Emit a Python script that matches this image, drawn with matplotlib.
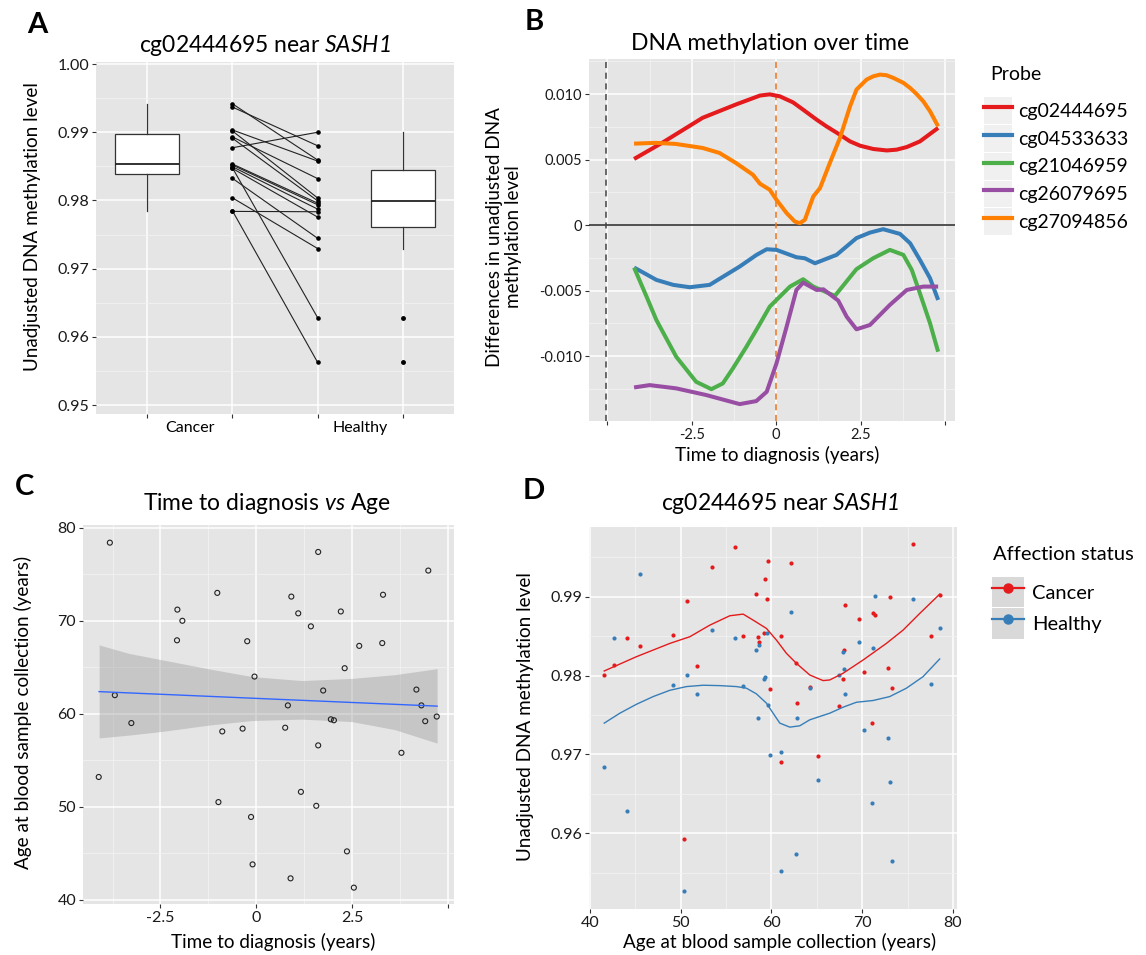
import numpy as np
import matplotlib
matplotlib.use('Agg')
import matplotlib.pyplot as plt
from matplotlib.ticker import MultipleLocator, FixedLocator, FormatStrFormatter
from matplotlib.patches import Rectangle
from matplotlib.lines import Line2D

W, H = 1146, 955
plt.rcParams['font.family'] = ['Lato', 'DejaVu Sans']
plt.rcParams['mathtext.fontset'] = 'custom'
plt.rcParams['mathtext.rm'] = 'Lato:italic'
plt.rcParams['mathtext.it'] = 'Lato:italic'

###############################################################
#                           DATA                              #
###############################################################

# panel A - boxplots and paired samples
cancer_box = [0.97845, 0.98394, 0.98535, 0.98980, 0.99418]   # whislo, q1, med, q3, whishi
healthy_box = [0.97296, 0.97606, 0.97995, 0.98442, 0.99000]
healthy_out = [0.96282, 0.95627]
pair_cancer = [0.99418, 0.99370, 0.99034, 0.99020, 0.98932, 0.98913, 0.98773, 0.98535,
               0.98520, 0.98495, 0.98480, 0.98470, 0.98325, 0.98039, 0.97850, 0.97840]
pair_healthy = [0.98593, 0.98802, 0.98578, 0.98037, 0.98321, 0.97995, 0.99000, 0.97961,
                0.97937, 0.97874, 0.96282, 0.97757, 0.97446, 0.97296, 0.95627, 0.97835]

# panel B - smoothed differences per probe
probes = ['cg02444695', 'cg04533633', 'cg21046959', 'cg26079695', 'cg27094856']
red_x = [-4.21, -3.38, -2.18, -1.19, -0.48, -0.19, 0.11, 0.50, 0.80, 1.20, 1.49, 1.89, 2.19, 2.49,
         2.88, 3.28, 3.57, 3.87, 4.26, 4.80]
red_y = [0.00505, 0.00628, 0.00819, 0.00921, 0.00989, 0.00998, 0.00983, 0.00937, 0.00881, 0.00805,
         0.00754, 0.00690, 0.00639, 0.00606, 0.00581, 0.00570, 0.00576, 0.00596, 0.00639, 0.00742]
blue_x = [-4.21, -3.94, -3.55, -3.05, -2.56, -1.97, -1.57, -1.08, -0.58, -0.28, 0.01, 0.60, 0.85,
          1.15, 1.79, 2.38, 2.78, 3.17, 3.67, 3.97, 4.26, 4.56, 4.80]
blue_y = [-0.00324, -0.00362, -0.00418, -0.00456, -0.00474, -0.00456, -0.00393, -0.00316, -0.00227,
          -0.00184, -0.00189, -0.00245, -0.00253, -0.00291, -0.00227, -0.00099, -0.00057, -0.00031,
          -0.00067, -0.00138, -0.00265, -0.00405, -0.00571]
green_x = [-4.21, -3.84, -3.55, -2.96, -2.37, -1.92, -1.58, -1.28, -0.88, -0.53, -0.19, 0.41, 0.80,
           1.10, 1.74, 2.38, 2.88, 3.37, 3.77, 4.02, 4.26, 4.56, 4.80]
green_y = [-0.00324, -0.00546, -0.00724, -0.01005, -0.01196, -0.01252, -0.01208, -0.01093, -0.00928,
           -0.00775, -0.00622, -0.00469, -0.00413, -0.00469, -0.00540, -0.00336, -0.00252, -0.00189,
           -0.00227, -0.00342, -0.00520, -0.00749, -0.00966]
purple_x = [-4.21, -3.75, -2.96, -2.07, -1.08, -0.59, -0.28, 0.01, 0.31, 0.60, 0.80, 1.20, 1.40,
            1.84, 2.09, 2.38, 2.78, 3.37, 3.87, 4.36, 4.80]
purple_y = [-0.01239, -0.01221, -0.01246, -0.01297, -0.01366, -0.01343, -0.01272, -0.01055,
            -0.00775, -0.00495, -0.00439, -0.00495, -0.00490, -0.00576, -0.00699, -0.00795,
            -0.00762, -0.00609, -0.00495, -0.00469, -0.00469]
orange_x = [-4.21, -3.57, -2.98, -2.18, -1.68, -1.19, -0.69, -0.48, -0.19, 0.01, 0.31, 0.55, 0.70,
            0.85, 1.10, 1.30, 1.59, 1.89, 2.19, 2.38, 2.68, 2.88, 3.08, 3.27, 3.47, 3.77, 3.97,
            4.16, 4.36, 4.56, 4.80]
orange_y = [0.00622, 0.00628, 0.00620, 0.00589, 0.00551, 0.00474, 0.00385, 0.00316, 0.00270,
            0.00193, 0.00092, 0.00028, 0.00015, 0.00040, 0.00219, 0.00283, 0.00474, 0.00665,
            0.00907, 0.01034, 0.01111, 0.01136, 0.01149, 0.01144, 0.01124, 0.01086, 0.01047,
            0.01001, 0.00945, 0.00869, 0.00754]
probe_x = [red_x, blue_x, green_x, purple_x, orange_x]
probe_y = [red_y, blue_y, green_y, purple_y, orange_y]
probe_col = ['#E41A1C', '#377EB8', '#4DAF4A', '#984EA3', '#FF7F00']

# panel C - time to diagnosis vs age
t_diag = [-4.11, -3.82, -3.69, -3.26, -2.06, -1.93, -2.07, -1.02, -0.99, -0.89, -0.36, -0.24,
          -0.14, -0.10, -0.05, 0.75, 0.82, 0.89, 0.91, 1.09, 1.16, 1.42, 1.56, 1.61, 1.61, 1.74,
          1.94, 2.02, 2.20, 2.30, 2.36, 2.54, 2.68, 3.28, 3.30, 3.78, 4.17, 4.30, 4.40, 4.48, 4.70]
age_c = [53.2, 78.4, 62.0, 59.0, 71.2, 70.0, 67.9, 73.0, 50.5, 58.1, 58.4, 67.8, 48.9, 43.8,
         64.0, 58.5, 60.9, 42.3, 72.6, 70.8, 51.6, 69.4, 50.1, 77.4, 56.6, 62.5, 59.4, 59.3,
         71.0, 64.9, 45.2, 41.3, 67.3, 67.6, 72.8, 55.8, 62.6, 60.9, 59.2, 75.4, 59.7]
fit_x = [-4.10, 4.71]
fit_y = [62.38, 60.82]
band_x = [-4.10, -3.33, -2.46, -1.20, -0.12, 1.18, 2.48, 3.60, 4.71]
band_hi = [67.4, 66.5, 65.8, 64.8, 64.0, 63.57, 63.8, 64.2, 64.85]
band_lo = [57.4, 57.7, 58.1, 58.8, 59.27, 59.42, 59.16, 58.3, 56.84]

# panel D - methylation vs age
age_d = [41.58, 42.61, 44.07, 45.47, 49.14, 50.75, 50.39, 51.85, 53.43, 56.00, 56.84, 58.28,
         58.57, 58.68, 59.16, 59.34, 59.49, 59.60, 59.89, 61.06, 61.10, 62.13, 62.68, 62.86,
         64.26, 65.14, 67.45, 67.85, 68.04, 68.11, 69.61, 70.24, 71.05, 71.23, 71.41, 72.84,
         73.06, 73.25, 75.63, 77.61, 78.61]
meth_cancer = [0.98013, 0.98135, 0.98481, 0.98376, 0.98519, 0.98945, 0.95932, 0.98122, 0.99376,
               0.99633, 0.98498, 0.99038, 0.98485, 0.98426, 0.98544, 0.99232, 0.98970, 0.99456,
               0.97831, 0.98498, 0.96903, 0.99430, 0.98156, 0.97658, 0.97857, 0.96975, 0.97620,
               0.97954, 0.98329, 0.98899, 0.98713, 0.98046, 0.97401, 0.98797, 0.98776, 0.98101,
               0.99004, 0.97848, 0.99667, 0.98506, 0.99025]
meth_healthy = [0.96835, 0.98477, 0.96287, 0.99287, 0.97882, 0.98004, 0.95266, 0.97764, 0.98582,
                0.98473, 0.97873, 0.98329, 0.97460, 0.98392, 0.97962, 0.97979, 0.98536, 0.97629,
                0.96996, 0.97025, 0.95523, 0.98810, 0.95730, 0.97460, 0.97848, 0.96671, 0.98013,
                0.98295, 0.98080, 0.97764, 0.98426, 0.97304, 0.96384, 0.98354, 0.99013, 0.97207,
                0.96654, 0.95641, 0.98970, 0.97899, 0.98603]
smooth_x_c = [41.58, 45.14, 48.81, 51.01, 53.21, 55.41, 56.88, 57.98, 59.45, 60.55, 61.65, 62.75,
              64.22, 65.69, 66.42, 67.89, 70.09, 72.66, 74.50, 76.33, 78.53]
smooth_c = [0.98059, 0.98241, 0.98409, 0.98494, 0.98641, 0.98760, 0.98781, 0.98705, 0.98599,
            0.98451, 0.98283, 0.98156, 0.98008, 0.97937, 0.97945, 0.98030, 0.98198, 0.98409,
            0.98578, 0.98789, 0.99034]
smooth_x_h = [41.58, 43.30, 45.14, 46.97, 48.81, 50.64, 52.48, 54.31, 56.15, 57.25, 58.35, 59.45,
              60.18, 60.92, 62.02, 63.12, 64.22, 65.32, 66.42, 67.89, 69.36, 71.19, 73.03, 74.86,
              76.70, 78.53]
smooth_h = [0.97397, 0.97523, 0.97637, 0.97734, 0.97814, 0.97861, 0.97878, 0.97873, 0.97861,
            0.97840, 0.97768, 0.97650, 0.97523, 0.97397, 0.97346, 0.97363, 0.97439, 0.97481,
            0.97523, 0.97599, 0.97662, 0.97684, 0.97734, 0.97840, 0.97987, 0.98211]
status = ['Cancer', 'Healthy']
status_col = ['#E41A1C', '#377EB8']


###############################################################
#                          HELPERS                            #
###############################################################

def rect(l, t, r, b):
    return [l / W, 1 - b / H, (r - l) / W, (b - t) / H]

def gg(ax, size):
    ax.set_facecolor('#E5E5E5')
    for s in ax.spines.values():
        s.set_visible(False)
    ax.set_axisbelow(True)
    ax.grid(True, which='major', color='white', lw=1.1)
    ax.grid(True, which='minor', color='#F2F2F2', lw=0.6)
    ax.tick_params(which='major', length=3, width=0.8, color='#333333',
                   labelsize=size, labelcolor='#1A1A1A', pad=2)
    ax.tick_params(which='minor', length=0)

def ftext(x, y, s, ha='center', **kw):
    fig.text(x / W, 1 - y / H, s, ha=ha, va='center', color='black', **kw)


fig = plt.figure(figsize=(W / 100, H / 100), dpi=100)

###############################################################
#                         PANEL A                             #
###############################################################
axA = fig.add_axes(rect(96, 62, 454, 414))
gg(axA, 11.5)
stats = [dict(whislo=cancer_box[0], q1=cancer_box[1], med=cancer_box[2], q3=cancer_box[3],
              whishi=cancer_box[4], fliers=[]),
         dict(whislo=healthy_box[0], q1=healthy_box[1], med=healthy_box[2], q3=healthy_box[3],
              whishi=healthy_box[4], fliers=healthy_out)]
axA.bxp(stats, positions=[1, 4], widths=0.75, showcaps=False, patch_artist=True,
        boxprops=dict(facecolor='white', edgecolor='#333333', lw=0.9),
        medianprops=dict(color='#222222', lw=1.3),
        whiskerprops=dict(color='#333333', lw=0.9),
        flierprops=dict(marker='o', markerfacecolor='black', markeredgecolor='black', markersize=2.5))
for c, h in zip(pair_cancer, pair_healthy):
    axA.plot([2, 3], [c, h], color='#222222', lw=0.8, marker='o', ms=2.3, mfc='black', mec='black')
axA.set_xlim(0.4, 4.6)
axA.set_ylim(0.9487, 1.0003)
axA.xaxis.set_major_locator(FixedLocator([1, 2, 3, 4]))
axA.set_xticklabels([])
axA.xaxis.set_minor_locator(FixedLocator([1.5, 3.5]))
axA.set_xticklabels(['Cancer', 'Healthy'], minor=True)
axA.xaxis.grid(False, which='minor')
axA.tick_params(axis='x', which='minor', labelsize=11.5, pad=5)
axA.yaxis.set_major_locator(MultipleLocator(0.01))
axA.yaxis.set_minor_locator(MultipleLocator(0.005))
axA.yaxis.set_major_formatter(FormatStrFormatter('%.2f'))

ftext(37, 25, 'A', fontsize=21, fontweight='bold')
ftext(265, 45, r'cg02444695 near $SASH1$', fontsize=16.5)
ftext(33, 227, 'Unadjusted DNA methylation level', fontsize=13.6, rotation=90)

###############################################################
#                         PANEL B                             #
###############################################################
axB = fig.add_axes(rect(589, 59, 955, 421))
gg(axB, 10.5)
axB.axhline(0, color='#222222', lw=1.1)
axB.axvline(-5.05, color='#444444', lw=1.1, ls=(0, (4, 3)))
axB.axvline(0, color='#E8711A', lw=1.1, ls=(0, (4, 3)))
for xs, ys, col in zip(probe_x, probe_y, probe_col):
    axB.plot(xs, ys, color=col, lw=2.9, solid_joinstyle='round', solid_capstyle='butt')
axB.set_xlim(-5.546, 5.30)
axB.set_ylim(-0.01495, 0.01268)
axB.xaxis.set_major_locator(FixedLocator([-5, -2.5, 0, 2.5, 5]))
axB.set_xticklabels(['', '-2.5', '0', '2.5', ''])
axB.xaxis.set_minor_locator(FixedLocator([-3.75, -1.25, 1.25, 3.75]))
axB.yaxis.set_major_locator(FixedLocator([-0.01, -0.005, 0, 0.005, 0.01]))
axB.set_yticklabels(['-0.010', '-0.005', '0', '0.005', '0.010'])
axB.yaxis.set_minor_locator(FixedLocator([-0.0125, -0.0075, -0.0025, 0.0025, 0.0075, 0.0125]))

ftext(534, 22, 'B', fontsize=21, fontweight='bold')
ftext(770, 44, 'DNA methylation over time', fontsize=16.5)
ftext(504, 237, 'Differences in unadjusted DNA\nmethylation level', fontsize=13.6, rotation=90,
      linespacing=1.1)
ftext(777, 455, 'Time to diagnosis (years)', fontsize=13.6)

ftext(990, 75, 'Probe', ha='left', fontsize=14)
hB = [(Rectangle((0, 0), 1, 1, fc='#F0F0F0', ec='none'), Line2D([], [], color=c, lw=3))
      for c in probe_col]
legB = fig.legend(hB, probes, loc='upper left', bbox_to_anchor=(984 / W, 1 - 97 / H),
                  frameon=False, fontsize=14, handlelength=1.45, handleheight=1.75,
                  handletextpad=0.3, labelspacing=0.05, borderpad=0, borderaxespad=0)

###############################################################
#                         PANEL C                             #
###############################################################
axC = fig.add_axes(rect(83, 525, 454, 904))
gg(axC, 11.5)
axC.fill_between(band_x, band_lo, band_hi, color='#999999', alpha=0.4, lw=0)
axC.plot(fit_x, fit_y, color='#3366FF', lw=1.0)
axC.scatter(t_diag, age_c, s=13, facecolors='none', edgecolors='#222222', linewidths=0.8)
axC.set_xlim(-4.52, 5.15)
axC.set_ylim(39.54, 80.3)
axC.xaxis.set_major_locator(FixedLocator([-2.5, 0, 2.5, 5]))
axC.set_xticklabels(['-2.5', '0', '2.5', ''])
axC.xaxis.set_minor_locator(FixedLocator([-3.75, -1.25, 1.25, 3.75]))
axC.yaxis.set_major_locator(MultipleLocator(10))
axC.yaxis.set_minor_locator(MultipleLocator(5))

ftext(25, 487, 'C', fontsize=21, fontweight='bold')
ftext(267, 504, r'Time to diagnosis $vs$ Age', fontsize=16.5)
ftext(23, 712, 'Age at blood sample collection (years)', fontsize=13.6, rotation=90)
ftext(273, 942, 'Time to diagnosis (years)', fontsize=13.6)

###############################################################
#                         PANEL D                             #
###############################################################
axD = fig.add_axes(rect(589, 527, 957, 909))
gg(axD, 11.5)
axD.plot(smooth_x_c, smooth_c, color=status_col[0], lw=1.0)
axD.plot(smooth_x_h, smooth_h, color=status_col[1], lw=1.0)
axD.scatter(age_d, meth_cancer, s=9, color=status_col[0], lw=0)
axD.scatter(age_d, meth_healthy, s=9, color=status_col[1], lw=0)
axD.set_xlim(39.9, 80.44)
axD.set_ylim(0.95037, 0.99887)
axD.xaxis.set_major_locator(MultipleLocator(10))
axD.xaxis.set_minor_locator(MultipleLocator(5))
axD.yaxis.set_major_locator(FixedLocator([0.96, 0.97, 0.98, 0.99]))
axD.yaxis.set_minor_locator(FixedLocator([0.955, 0.965, 0.975, 0.985, 0.995]))
axD.yaxis.set_major_formatter(FormatStrFormatter('%.2f'))

ftext(534, 491, 'D', fontsize=21, fontweight='bold')
ftext(780, 504, r'cg0244695 near $SASH1$', fontsize=16.5)
ftext(525, 717, 'Unadjusted DNA methylation level', fontsize=13.6, rotation=90)
ftext(780, 942, 'Age at blood sample collection (years)', fontsize=13.6)

ftext(993, 554, 'Affection status', ha='left', fontsize=14.5)
hD = [(Rectangle((0, 0), 1, 1, fc='#D9D9D9', ec='none'),
       Line2D([], [], color=c, lw=1.6, marker='o', ms=6.5)) for c in status_col]
legD = fig.legend(hD, status, loc='upper left', bbox_to_anchor=(992 / W, 1 - 577 / H),
                  frameon=False, fontsize=14.5, handlelength=1.6, handleheight=1.95,
                  handletextpad=0.4, labelspacing=0.05, borderpad=0, borderaxespad=0,
                  numpoints=1)

fig.savefig('out.png', dpi=100)
